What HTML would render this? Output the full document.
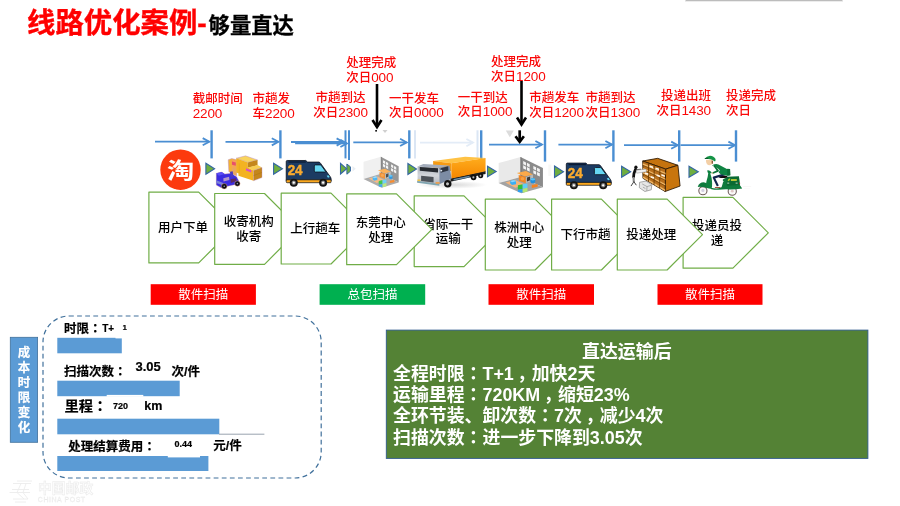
<!DOCTYPE html>
<html lang="zh-CN">
<head>
<meta charset="utf-8">
<title>线路优化案例-够量直达</title>
<style>
html,body{margin:0;padding:0;background:#fff;}
body{width:900px;height:506px;overflow:hidden;position:relative;font-family:"Liberation Sans","Noto Sans CJK SC",sans-serif;}
svg{will-change:transform;position:absolute;left:0;top:0;display:block;}
text{font-family:"Liberation Sans","Noto Sans CJK SC",sans-serif;}
.tl{fill:#fa0808;font-size:12.5px;font-weight:500;}
.pt{fill:#000;font-size:12.5px;text-anchor:middle;font-weight:500;}
.sc{fill:#fff;font-size:12.5px;text-anchor:middle;}
.bk{fill:#000;font-weight:bold;stroke:#000;stroke-width:0.2px;}
.gb{fill:#fff;font-weight:bold;font-size:17.9px;}
</style>
</head>
<body>
<svg width="900" height="506" viewBox="0 0 900 506">

<rect x="685.5" y="0" width="157" height="1" fill="#bcbcbc"/><rect x="685" y="1" width="158" height="1" fill="#ececec"/>
<text x="27" y="33" font-size="28.4" font-weight="bold" fill="#ff0000" stroke="#ff0000" stroke-width="0.35">线路优化案例-</text>
<text x="208.6" y="33" font-size="21.3" font-weight="bold" fill="#000" stroke="#000" stroke-width="0.3">够量直达</text>
<text class="tl" x="192.7" y="103.2" text-anchor="start">截邮时间</text>
<text class="tl" x="192.7" y="118.0" text-anchor="start"><tspan font-size="13.5" letter-spacing="-0.12">2200</tspan></text>
<text class="tl" x="252.5" y="103.2" text-anchor="start">市趟发</text>
<text class="tl" x="252.5" y="118.0" text-anchor="start">车<tspan font-size="13.5" letter-spacing="-0.12">2200</tspan></text>
<text class="tl" x="340.6" y="102.4" text-anchor="middle">市趟到达</text>
<text class="tl" x="340.6" y="117.2" text-anchor="middle">次日<tspan font-size="13.5" letter-spacing="-0.12">2300</tspan></text>
<text class="tl" x="346.2" y="66.9" text-anchor="start">处理完成</text>
<text class="tl" x="346.2" y="81.7" text-anchor="start">次日<tspan font-size="13.5" letter-spacing="-0.12">000</tspan></text>
<text class="tl" x="389" y="102.5" text-anchor="start">一干发车</text>
<text class="tl" x="389" y="117.3" text-anchor="start">次日<tspan font-size="13.5" letter-spacing="-0.12">0000</tspan></text>
<text class="tl" x="457.8" y="101.5" text-anchor="start">一干到达</text>
<text class="tl" x="457.8" y="116.3" text-anchor="start">次日<tspan font-size="13.5" letter-spacing="-0.12">1000</tspan></text>
<text class="tl" x="491" y="65.9" text-anchor="start">处理完成</text>
<text class="tl" x="491" y="80.7" text-anchor="start">次日<tspan font-size="13.5" letter-spacing="-0.12">1200</tspan></text>
<text class="tl" x="529.3" y="101.9" text-anchor="start">市趟发车</text>
<text class="tl" x="529.3" y="116.7" text-anchor="start">次日<tspan font-size="13.5" letter-spacing="-0.12">1200</tspan></text>
<text class="tl" x="585.5" y="101.9" text-anchor="start">市趟到达</text>
<text class="tl" x="585.5" y="116.7" text-anchor="start">次日<tspan font-size="13.5" letter-spacing="-0.12">1300</tspan></text>
<text class="tl" x="711" y="100.2" text-anchor="end">投递出班</text>
<text class="tl" x="711" y="115.0" text-anchor="end">次日<tspan font-size="13.5" letter-spacing="-0.12">1430</tspan></text>
<text class="tl" x="726" y="100.2" text-anchor="start">投递完成</text>
<text class="tl" x="726" y="115.0" text-anchor="start">次日</text>
<g stroke="#4a8ed2" stroke-width="1.8" fill="none" opacity="1" stroke-linecap="butt"><line x1="155" y1="141.7" x2="209.3" y2="141.7"/><polyline points="202.70000000000002,138.1 209.3,141.7 202.70000000000002,145.29999999999998"/></g>
<line x1="211.6" y1="130.3" x2="211.6" y2="158.4" stroke="#4a8ed2" stroke-width="2.4" opacity="1"/>
<g stroke="#4a8ed2" stroke-width="1.8" fill="none" opacity="1" stroke-linecap="butt"><line x1="225.5" y1="141.79999999999998" x2="278.4" y2="141.79999999999998"/><polyline points="271.79999999999995,138.2 278.4,141.79999999999998 271.79999999999995,145.39999999999998"/></g>
<line x1="280.4" y1="130.3" x2="280.4" y2="158.4" stroke="#4a8ed2" stroke-width="2.4" opacity="1"/>
<g stroke="#4a8ed2" stroke-width="1.8" fill="none" opacity="1" stroke-linecap="butt"><line x1="291" y1="142.0" x2="343.2" y2="142.0"/><polyline points="336.59999999999997,138.4 343.2,142.0 336.59999999999997,145.6"/></g>
<g stroke="#4a8ed2" stroke-width="1.8" fill="none" opacity="1" stroke-linecap="butt"><line x1="295.1" y1="143.39999999999998" x2="347" y2="143.39999999999998"/><polyline points="340.4,139.79999999999998 347,143.39999999999998 340.4,146.99999999999997"/></g>
<line x1="345.5" y1="130.3" x2="345.5" y2="158.4" stroke="#4a8ed2" stroke-width="2" opacity="1"/>
<line x1="349" y1="130.3" x2="349" y2="160" stroke="#4a8ed2" stroke-width="2" opacity="1"/>
<g stroke="#4a8ed2" stroke-width="1.8" fill="none" opacity="1" stroke-linecap="butt"><line x1="353.3" y1="142.39999999999998" x2="406.7" y2="142.39999999999998"/><polyline points="400.09999999999997,138.79999999999998 406.7,142.39999999999998 400.09999999999997,145.99999999999997"/></g>
<line x1="409.3" y1="130.3" x2="409.3" y2="158.4" stroke="#4a8ed2" stroke-width="2.4" opacity="1"/>
<line x1="415" y1="130.3" x2="415" y2="158.4" stroke="#dbe6f4" stroke-width="2" opacity="1"/>
<g stroke="#e3ecf7" stroke-width="1.8" fill="none" opacity="1" stroke-linecap="butt"><line x1="420" y1="142.6" x2="473" y2="142.6"/><polyline points="466.4,139.0 473,142.6 466.4,146.2"/></g>
<line x1="477.5" y1="130.3" x2="477.5" y2="158.4" stroke="#dbe6f4" stroke-width="2" opacity="1"/>
<line x1="481.2" y1="130.3" x2="481.2" y2="161.6" stroke="#4a8ed2" stroke-width="2.4" opacity="1"/>
<g stroke="#4a8ed2" stroke-width="1.8" fill="none" opacity="1" stroke-linecap="butt"><line x1="489" y1="144.6" x2="542" y2="144.6"/><polyline points="535.4,141.0 542,144.6 535.4,148.2"/></g>
<line x1="545" y1="130.3" x2="545" y2="161.6" stroke="#4a8ed2" stroke-width="2.4" opacity="1"/>
<g stroke="#4a8ed2" stroke-width="1.8" fill="none" opacity="1" stroke-linecap="butt"><line x1="558.4" y1="144.6" x2="612" y2="144.6"/><polyline points="605.4,141.0 612,144.6 605.4,148.2"/></g>
<line x1="613.4" y1="130.3" x2="613.4" y2="161.6" stroke="#4a8ed2" stroke-width="2.4" opacity="1"/>
<g stroke="#4a8ed2" stroke-width="1.8" fill="none" opacity="1" stroke-linecap="butt"><line x1="624" y1="145.2" x2="677.8" y2="145.2"/><polyline points="671.1999999999999,141.6 677.8,145.2 671.1999999999999,148.79999999999998"/></g>
<line x1="679.2" y1="130.3" x2="679.2" y2="161.6" stroke="#4a8ed2" stroke-width="2.4" opacity="1"/>
<g stroke="#4a8ed2" stroke-width="1.8" fill="none" opacity="1" stroke-linecap="butt"><line x1="680.5" y1="145.2" x2="735" y2="145.2"/><polyline points="728.4,141.6 735,145.2 728.4,148.79999999999998"/></g>
<line x1="736" y1="130.3" x2="736" y2="161.6" stroke="#4a8ed2" stroke-width="2.4" opacity="1"/>
<g stroke="#000" stroke-width="2.6" fill="none"><line x1="377" y1="84" x2="377" y2="127"/><polyline points="372.5,120 377,127 381.5,120"/></g>
<rect x="375.3" y="130" width="1.6" height="1.6" fill="#000"/>
<polygon points="382.5,130 387.5,130 385,133" fill="#d0d0d0"/>
<g stroke="#000" stroke-width="2.6" fill="none"><line x1="521.5" y1="81" x2="521.5" y2="124.5"/><polyline points="517.0,117.5 521.5,124.5 526.0,117.5"/></g>
<g stroke="#000" stroke-width="2.7" fill="none"><line x1="519.7" y1="130.3" x2="519.7" y2="141.8"/><polyline points="515.5,136.3 519.7,141.8 523.9000000000001,136.3"/></g>
<polygon points="505.8,130.5 513.8,130.5 509.8,137.2" fill="#dcdcdc"/>
<polygon points="205.9,163.2 214.6,168.7 205.9,174.2" fill="#6fae3f" stroke="#3465a4" stroke-width="1.1" stroke-linejoin="miter"/>
<polygon points="273.6,163.3 282.4,168.8 273.6,174.3" fill="#6fae3f" stroke="#3465a4" stroke-width="1.1" stroke-linejoin="miter"/>
<polygon points="340.5,163.3 346.7,168.7 340.5,174" fill="#6fae3f" stroke="#3465a4" stroke-width="1.1"/>
<polygon points="346.9,164 350.4,166.8 350.4,171.2 346.9,174.2" fill="#6fae3f" stroke="#3465a4" stroke-width="1"/>
<polygon points="352.5,166 355.8,168.8 352.5,171.6" fill="#e9eef3"/>
<polygon points="407.9,163.5 416.5,169.0 407.9,174.5" fill="#6fae3f" stroke="#3465a4" stroke-width="1.1" stroke-linejoin="miter"/>
<polygon points="487.5,166.2 496.2,171.5 487.5,176.8" fill="#6fae3f" stroke="#3465a4" stroke-width="1.1" stroke-linejoin="miter"/>
<polygon points="548.3,164.5 551.3,164.5 551.3,176 548.3,176" fill="#f8f8f6"/>
<polygon points="554.5,166 563.5,171.7 554.5,177.4" fill="#6fae3f" stroke="#3465a4" stroke-width="1.1" stroke-linejoin="miter"/>
<polygon points="621.6,166.2 630.7,171.7 621.6,177.2" fill="#6fae3f" stroke="#3465a4" stroke-width="1.1" stroke-linejoin="miter"/>
<polygon points="689,166.2 698.3,171.7 689,177.2" fill="#6fae3f" stroke="#3465a4" stroke-width="1.1" stroke-linejoin="miter"/>
<circle cx="180.5" cy="169.7" r="20.2" fill="#fc3a0e"/>
<text transform="translate(180.6,177.6) scale(1.27,1)" x="0" y="0" font-size="21.5" font-weight="bold" fill="#fff" text-anchor="middle">淘</text>
<g transform="translate(210,150) scale(0.08889)">
<polygon points="205,110 245,96 300,110 300,290 212,245" fill="#f2b235" stroke="#b58ad0" stroke-width="5"/>
<polygon points="245,104 292,114 292,290 245,262" fill="#f5a457"/>
<polygon points="247,128 290,140 290,178 247,166" fill="#e8506a"/>
<polygon points="250,200 288,210 288,280 250,262" fill="#e9a860"/>
<polygon points="295,92 400,66 535,112 425,140" fill="#f9d45c" stroke="#b58ad0" stroke-width="5"/>
<polygon points="295,92 425,140 425,300 295,252" fill="#f3b321"/>
<polygon points="425,140 535,112 535,172 425,200" fill="#c4861c"/>
<polygon points="425,196 535,170 585,196 490,230" fill="#f7cd52"/>
<polygon points="320,240 425,196 490,230 490,346 320,290" fill="#f3b321"/>
<polygon points="490,230 585,196 585,310 490,346" fill="#c4861c" stroke="#b58ad0" stroke-width="4"/>
<polyline points="490,288 585,252" stroke="#a8700f" stroke-width="5" fill="none"/>
<polygon points="405,205 465,228 465,252 405,230" fill="#d94cc8"/>
<polyline points="330,150 330,260 M350,160 350,265" stroke="#dca020" stroke-width="5" fill="none"/>
<polygon points="70,262 132,248 165,270 235,262 300,300 325,350 290,388 125,425 70,395" fill="#3b2ce0" stroke="#f0b090" stroke-width="4"/>
<polygon points="70,262 132,248 165,270 100,290" fill="#5a4df5"/>
<polygon points="70,340 150,370 150,400 70,372" fill="#7a80d8"/>
<polygon points="225,245 255,238 265,300 232,312" fill="#4a3bc0"/>
<polygon points="150,318 215,300 218,338 152,355" fill="#b094c8"/>
<polygon points="230,330 290,318 300,350 235,370" fill="#5a2a60"/>
<circle cx="160" cy="408" r="31" fill="#0c0c14" stroke="#f0b090" stroke-width="5"/><circle cx="160" cy="408" r="9" fill="#9a9aa8"/>
<circle cx="308" cy="378" r="30" fill="#0c0c14" stroke="#f0b090" stroke-width="5"/><circle cx="308" cy="378" r="9" fill="#9a9aa8"/>
</g>
<g transform="translate(280,150) scale(0.08889)">
<path d="M82,118 H290 L310,136 H438 Q448,138 455,148 L568,305 Q575,315 575,330 V345 H70 V130 Q70,118 82,118 Z" fill="#1c3b63" stroke="#0a0f1a" stroke-width="9" stroke-linejoin="round"/>
<path d="M70,335 H575 V358 Q575,368 565,368 H80 Q70,368 70,358 Z" fill="#fba81f" stroke="#0a0f1a" stroke-width="8" stroke-linejoin="round"/>
<path d="M95,135 H290" stroke="#0c1b33" stroke-width="14" fill="none"/>
<path d="M398,168 H452 Q460,168 466,176 L512,240 Q515,248 505,248 H398 Q386,248 386,236 V180 Q386,168 398,168 Z" fill="#66d6f2" stroke="#0a0f1a" stroke-width="9" stroke-linejoin="round"/>
<polygon points="525,290 545,283 560,305 540,312" fill="#66d6f2"/>
<text x="86" y="284" font-size="158" font-weight="bold" fill="#fbab2e" stroke="#fbab2e" stroke-width="5" textLength="168" lengthAdjust="spacingAndGlyphs">24</text>
<circle cx="155" cy="368" r="45" fill="#151515"/><circle cx="155" cy="368" r="25" fill="#777"/><circle cx="155" cy="368" r="13" fill="#fff"/>
<circle cx="485" cy="368" r="45" fill="#151515"/><circle cx="485" cy="368" r="25" fill="#777"/><circle cx="485" cy="368" r="13" fill="#fff"/>
</g>
<g transform="translate(560.1,152.6) scale(0.08889)">
<path d="M82,118 H290 L310,136 H438 Q448,138 455,148 L568,305 Q575,315 575,330 V345 H70 V130 Q70,118 82,118 Z" fill="#1c3b63" stroke="#0a0f1a" stroke-width="9" stroke-linejoin="round"/>
<path d="M70,335 H575 V358 Q575,368 565,368 H80 Q70,368 70,358 Z" fill="#fba81f" stroke="#0a0f1a" stroke-width="8" stroke-linejoin="round"/>
<path d="M95,135 H290" stroke="#0c1b33" stroke-width="14" fill="none"/>
<path d="M398,168 H452 Q460,168 466,176 L512,240 Q515,248 505,248 H398 Q386,248 386,236 V180 Q386,168 398,168 Z" fill="#66d6f2" stroke="#0a0f1a" stroke-width="9" stroke-linejoin="round"/>
<polygon points="525,290 545,283 560,305 540,312" fill="#66d6f2"/>
<text x="86" y="284" font-size="158" font-weight="bold" fill="#fbab2e" stroke="#fbab2e" stroke-width="5" textLength="168" lengthAdjust="spacingAndGlyphs">24</text>
<circle cx="155" cy="368" r="45" fill="#151515"/><circle cx="155" cy="368" r="25" fill="#777"/><circle cx="155" cy="368" r="13" fill="#fff"/>
<circle cx="485" cy="368" r="45" fill="#151515"/><circle cx="485" cy="368" r="25" fill="#777"/><circle cx="485" cy="368" r="13" fill="#fff"/>
</g>
<g transform="translate(480.00,145.00) scale(0.10667,0.10667)" opacity="1">
<polygon points="175,168 380,113 380,300 175,357" fill="#e9e9e9"/>
<polygon points="380,113 590,216 590,396 380,300" fill="#8b8b8b"/>
<polygon points="175,357 380,300 590,396 388,452" fill="#a3a3a3"/>
<polygon points="380,113 388,117 388,304 380,300" fill="#6e6e6e"/>
<polygon points="405,150 431,163 431,193 405,180" fill="#f4f4f4"/>
<polygon points="440,167 466,180 466,210 440,197" fill="#f4f4f4"/>
<polygon points="405,190 431,203 431,233 405,220" fill="#f4f4f4"/>
<polygon points="440,207 466,220 466,250 440,237" fill="#f4f4f4"/>
<polygon points="500,196 526,209 526,239 500,226" fill="#f4f4f4"/>
<polygon points="535,213 561,226 561,256 535,243" fill="#f4f4f4"/>
<polygon points="500,236 526,249 526,279 500,266" fill="#f4f4f4"/>
<polygon points="535,253 561,266 561,296 535,283" fill="#f4f4f4"/>
<polygon points="238,352 330,328 425,372 332,400" fill="#f4b47a"/>
<polygon points="283,338 320,328 338,340 338,368 300,376 283,362" fill="#39aef4"/>
<polygon points="283,338 320,328 338,340 300,350" fill="#8fd6fb"/>
<polygon points="345,262 430,244 497,276 420,296" fill="#fba94a"/>
<polygon points="362,282 430,300 430,358 366,336" fill="#f08522"/>
<polygon points="430,300 497,276 497,330 430,358" fill="#b9b9b9"/>
<circle cx="398" cy="316" r="17" fill="#f6a044"/>
<polygon points="440,305 470,295 470,330 440,342" fill="#3a3a3a"/>
<ellipse cx="495" cy="334" rx="24" ry="24" fill="#1e90e0"/><ellipse cx="495" cy="322" rx="22" ry="10" fill="#5cc4f7"/>
<polygon points="355,378 400,368 400,412 355,420" fill="#2fbf3a"/>
<polygon points="400,368 445,362 445,400 400,412" fill="#5fcdf7"/>
<polygon points="355,420 400,412 400,447 355,440" fill="#2f9ff0"/>
<polygon points="400,412 445,400 445,436 400,447" fill="#b3e673"/>
<polygon points="486,376 540,366 540,392 486,402" fill="#f5821f"/>
</g>
<g transform="translate(348.66,146.52) scale(0.08480,0.09099)" opacity="0.9">
<polygon points="175,168 380,113 380,300 175,357" fill="#efefef"/>
<polygon points="380,113 590,216 590,396 380,300" fill="#8b8b8b"/>
<polygon points="175,357 380,300 590,396 388,452" fill="#a3a3a3"/>
<polygon points="380,113 388,117 388,304 380,300" fill="#6e6e6e"/>
<polygon points="405,150 431,163 431,193 405,180" fill="#f4f4f4"/>
<polygon points="440,167 466,180 466,210 440,197" fill="#f4f4f4"/>
<polygon points="405,190 431,203 431,233 405,220" fill="#f4f4f4"/>
<polygon points="440,207 466,220 466,250 440,237" fill="#f4f4f4"/>
<polygon points="500,196 526,209 526,239 500,226" fill="#f4f4f4"/>
<polygon points="535,213 561,226 561,256 535,243" fill="#f4f4f4"/>
<polygon points="500,236 526,249 526,279 500,266" fill="#f4f4f4"/>
<polygon points="535,253 561,266 561,296 535,283" fill="#f4f4f4"/>
<polygon points="238,352 330,328 425,372 332,400" fill="#f4b47a"/>
<polygon points="283,338 320,328 338,340 338,368 300,376 283,362" fill="#39aef4"/>
<polygon points="283,338 320,328 338,340 300,350" fill="#8fd6fb"/>
<polygon points="345,262 430,244 497,276 420,296" fill="#fba94a"/>
<polygon points="362,282 430,300 430,358 366,336" fill="#f08522"/>
<polygon points="430,300 497,276 497,330 430,358" fill="#b9b9b9"/>
<circle cx="398" cy="316" r="17" fill="#f6a044"/>
<polygon points="440,305 470,295 470,330 440,342" fill="#3a3a3a"/>
<ellipse cx="495" cy="334" rx="24" ry="24" fill="#1e90e0"/><ellipse cx="495" cy="322" rx="22" ry="10" fill="#5cc4f7"/>
<polygon points="355,378 400,368 400,412 355,420" fill="#2fbf3a"/>
<polygon points="400,368 445,362 445,400 400,412" fill="#5fcdf7"/>
<polygon points="355,420 400,412 400,447 355,440" fill="#2f9ff0"/>
<polygon points="400,412 445,400 445,436 400,447" fill="#b3e673"/>
<polygon points="486,376 540,366 540,392 486,402" fill="#f5821f"/>
</g>
<g transform="translate(410,150) scale(0.08889)">
<defs><linearGradient id="tg" x1="0" y1="0" x2="0" y2="1"><stop offset="0" stop-color="#ffac1c"/><stop offset="1" stop-color="#f58600"/></linearGradient>
<linearGradient id="cg" x1="0" y1="0" x2="0" y2="1"><stop offset="0" stop-color="#aeb4be"/><stop offset="0.5" stop-color="#d2d5da"/><stop offset="1" stop-color="#b4b8c0"/></linearGradient>
<radialGradient id="sh" cx="0.5" cy="0.5" r="0.5"><stop offset="0" stop-color="#d8d8d8"/><stop offset="1" stop-color="#ffffff"/></radialGradient></defs>
<ellipse cx="470" cy="392" rx="400" ry="45" fill="url(#sh)"/>
<polygon points="455,318 850,234 850,270 455,356" fill="#1e1e1e"/>
<polygon points="260,125 620,75 850,90 465,150" fill="#ffc244"/>
<polygon points="465,150 850,90 850,240 465,322" fill="url(#tg)"/>
<polygon points="490,326 670,290 670,306 490,343" fill="#6a8ea8"/>
<polygon points="260,125 465,150 465,240 260,200" fill="#f59a12"/>
<polygon points="85,185 150,158 440,175 330,202" fill="#a4adbc"/>
<polygon points="85,185 330,202 330,386 85,356" fill="url(#cg)"/>
<polygon points="330,202 446,175 468,324 330,386" fill="#7c8ca4"/>
<polygon points="110,190 315,205 315,252 110,234" fill="#262a30"/>
<polygon points="125,290 265,305 265,366 125,350" fill="#4d5259"/>
<polygon points="345,205 430,182 432,232 345,255" fill="#2c3440"/>
<circle cx="352" cy="232" r="11" fill="#e4ebf3"/>
<polygon points="80,348 330,380 330,402 80,368" fill="#7fa4b0"/>
<rect x="84" y="332" width="32" height="17" fill="#f5c53a"/><rect x="288" y="362" width="46" height="17" fill="#f59a3a"/>
<ellipse cx="425" cy="380" rx="42" ry="43" fill="#111"/><ellipse cx="422" cy="381" rx="17" ry="19" fill="#c4c4c4"/>
<ellipse cx="715" cy="306" rx="32" ry="33" fill="#111"/><ellipse cx="713" cy="307" rx="12" ry="13" fill="#b8b8b8"/>
<ellipse cx="795" cy="288" rx="29" ry="30" fill="#111"/><ellipse cx="793" cy="289" rx="10" ry="11" fill="#b8b8b8"/>
</g>
<g transform="translate(615,145) scale(0.10667)">
<polygon points="260,150 400,125 590,190 475,226" fill="#c5730f" stroke="#2a1600" stroke-width="8" stroke-linejoin="round"/>
<polygon points="475,226 590,190 610,385 470,436" fill="#c8750d" stroke="#2a1600" stroke-width="8" stroke-linejoin="round"/>
<polygon points="260,150 475,226 470,436 262,312" fill="#b86f1c" stroke="#2a1600" stroke-width="8" stroke-linejoin="round"/>
<polygon points="260,172 474,260 474,276 260,188" fill="#eeb566"/>
<polygon points="261,213 472,313 472,328 261,228" fill="#eeb566"/>
<polygon points="262,254 471,366 471,380 262,268" fill="#eeb566"/>
<polygon points="262,294 470,418 470,433 262,309" fill="#eeb566"/>
<line x1="314" y1="169" x2="314" y2="343" stroke="#6a3900" stroke-width="8"/>
<line x1="368" y1="188" x2="366" y2="374" stroke="#6a3900" stroke-width="8"/>
<line x1="421" y1="207" x2="418" y2="405" stroke="#6a3900" stroke-width="8"/>
<line x1="260" y1="190" x2="474" y2="278" stroke="#6a3900" stroke-width="6"/>
<line x1="261" y1="231" x2="472" y2="331" stroke="#6a3900" stroke-width="6"/>
<line x1="262" y1="272" x2="471" y2="384" stroke="#6a3900" stroke-width="6"/>
<polygon points="325,190 357,201 357,217 325,206" fill="#fdf6ea"/>
<polygon points="380,210 412,221 412,237 380,226" fill="#fdf6ea"/>
<polygon points="335,290 367,301 367,317 335,306" fill="#fdf6ea"/>
<polygon points="390,275 422,286 422,302 390,291" fill="#fdf6ea"/>
<polygon points="435,272 467,283 467,299 435,288" fill="#fdf6ea"/>
<polygon points="280,255 312,266 312,282 280,271" fill="#fdf6ea"/>
<ellipse cx="196" cy="208" rx="15" ry="16" fill="#111"/>
<path d="M192,228 Q172,270 174,300" stroke="#111" stroke-width="26" fill="none" stroke-linecap="round"/>
<path d="M174,300 L176,345" stroke="#8a8a8a" stroke-width="20" fill="none" stroke-linecap="butt"/>
<path d="M176,345 L152,382 M178,345 L198,374" stroke="#222" stroke-width="8" fill="none" stroke-linecap="round"/>
<polygon points="198,236 290,226 296,250 204,264" fill="#f2f2f2" stroke="#7a7a7a" stroke-width="4"/>
<path d="M200,232 L245,226" stroke="#333" stroke-width="6"/>
<path d="M230,350 L290,338 L345,372 L340,420 L280,436 L228,400 Z" fill="#e6e6e6" stroke="#808080" stroke-width="6" stroke-linejoin="round"/>
<path d="M255,365 L300,390 L298,430 M300,390 L340,378 M262,395 L285,408" stroke="#8a8a8a" stroke-width="6" fill="none"/>
</g>
<g transform="translate(694,152) scale(0.08897)">
<rect x="548" y="382" width="95" height="5" fill="#f1eded"/><rect x="560" y="405" width="70" height="4" fill="#f6f3f3"/>
<circle cx="100" cy="435" r="46" fill="#fbfafa" stroke="#6e5c5a" stroke-width="12"/><circle cx="100" cy="432" r="18" fill="#d4d0e2"/>
<circle cx="430" cy="440" r="46" fill="#fbfafa" stroke="#6e5c5a" stroke-width="12"/><circle cx="430" cy="440" r="16" fill="#e2c8c8"/>
<path d="M42,392 Q58,340 110,340 Q165,348 180,410 L150,405 Q120,392 90,392 Q62,390 42,392 Z" fill="#0e7a3d"/>
<path d="M150,205 Q175,200 195,225 L200,238 L182,240 Q205,300 205,350 Q205,395 195,410 L140,405 Q128,370 140,330 Q155,290 160,240 Q148,225 150,205 Z" fill="#0f8040"/>
<path d="M185,398 Q250,420 300,400 L300,330 Q330,300 370,285 L505,280 L515,370 L542,410 Q450,425 360,420 Q250,432 185,415 Z" fill="#0e7a3d"/>
<path d="M205,290 L300,275 L330,330 L310,395 L210,398 Z" fill="#fdfdfd"/>
<polygon points="365,278 505,272 515,372 368,378" fill="#0a6a32"/>
<polygon points="376,318 395,298 410,302 392,330" fill="#b5d334"/>
<rect x="415" y="305" width="66" height="20" fill="#c9cf3a"/>
<rect x="374" y="345" width="22" height="9" fill="#e9f3ea"/><rect x="468" y="345" width="22" height="9" fill="#e9f3ea"/>
<rect x="508" y="345" width="10" height="18" fill="#c0392b"/>
<ellipse cx="325" cy="278" rx="50" ry="14" fill="#140a0a"/>
<path d="M345,250 L222,288 L268,382" stroke="#13244c" stroke-width="24" fill="none" stroke-linejoin="round" stroke-linecap="butt"/>
<path d="M240,400 L292,400" stroke="#a0523a" stroke-width="12" stroke-linecap="round"/>
<path d="M205,150 Q240,128 275,140 L370,190 L378,188 L405,192 L408,262 L372,268 L300,250 L262,215 Z" fill="#0f8443"/>
<path d="M372,192 L405,192 L408,262 L375,266 Z" fill="#0b6e36"/>
<polygon points="215,150 262,180 290,205 272,240 225,215" fill="#ffffff"/>
<path d="M232,160 L270,212 L212,236" stroke="#0c7238" stroke-width="20" fill="none" stroke-linecap="round" stroke-linejoin="round"/>
<circle cx="207" cy="237" r="9" fill="#f0c7a0"/>
<path d="M135,90 Q132,140 170,150 Q205,150 210,110 L205,85 Z" fill="#f3cfa6"/>
<path d="M198,95 L215,98 L212,135 L198,128 Z" fill="#8a5a36"/>
<path d="M125,72 Q138,48 180,42 Q225,44 242,80 Q245,98 236,106 L208,90 Q180,78 152,80 Z" fill="#159447"/>
<path d="M120,68 L160,66 L160,80 L122,78 Z" fill="#0a5a2a"/>
</g>
<polygon points="148.9,192.1 198.7,192.1 234.1,227.5 198.7,262.9 148.9,262.9" fill="#fff" stroke="#70ad47" stroke-width="1.2" stroke-linejoin="round"/>
<text class="pt" x="182.9" y="232.1">用户下单</text>
<polygon points="214.7,193.5 264.5,193.5 299.9,228.9 264.5,264.3 214.7,264.3" fill="#fff" stroke="#70ad47" stroke-width="1.2" stroke-linejoin="round"/>
<text class="pt" x="248.7" y="226.2">收寄机构</text>
<text class="pt" x="248.7" y="241.1">收寄</text>
<polygon points="281.2,193.2 331.0,193.2 366.4,228.6 331.0,264.0 281.2,264.0" fill="#fff" stroke="#70ad47" stroke-width="1.2" stroke-linejoin="round"/>
<text class="pt" x="315.2" y="233.2">上行趟车</text>
<polygon points="414.2,195.8 464.0,195.8 499.4,231.2 464.0,266.6 414.2,266.6" fill="#fff" stroke="#70ad47" stroke-width="1.2" stroke-linejoin="round"/>
<text class="pt" x="448.2" y="228.5">省际一干</text>
<text class="pt" x="448.2" y="243.4">运输</text>
<polygon points="346.7,193.9 396.5,193.9 431.9,229.3 396.5,264.7 346.7,264.7" fill="#fff" stroke="#70ad47" stroke-width="1.2" stroke-linejoin="round"/>
<text class="pt" x="380.7" y="226.6">东莞中心</text>
<text class="pt" x="380.7" y="241.5">处理</text>
<polygon points="485.3,199.2 535.1,199.2 570.5,234.6 535.1,270.0 485.3,270.0" fill="#fff" stroke="#70ad47" stroke-width="1.2" stroke-linejoin="round"/>
<text class="pt" x="519.3" y="231.9">株洲中心</text>
<text class="pt" x="519.3" y="246.8">处理</text>
<polygon points="551.6,199.2 601.4,199.2 636.8,234.6 601.4,270.0 551.6,270.0" fill="#fff" stroke="#70ad47" stroke-width="1.2" stroke-linejoin="round"/>
<text class="pt" x="585.6" y="239.2">下行市趟</text>
<polygon points="683.1,197.4 732.9,197.4 768.3,232.8 732.9,268.2 683.1,268.2" fill="#fff" stroke="#70ad47" stroke-width="1.2" stroke-linejoin="round"/>
<text class="pt" x="717.1" y="230.1">投递员投</text>
<text class="pt" x="717.1" y="245.0">递</text>
<polygon points="617.3,199.2 667.1,199.2 702.5,234.6 667.1,270.0 617.3,270.0" fill="#fff" stroke="#70ad47" stroke-width="1.2" stroke-linejoin="round"/>
<text class="pt" x="651.3" y="239.2">投递处理</text>
<rect x="150.7" y="284.2" width="105.2" height="20.6" fill="#ff0000"/>
<text class="sc" x="203.3" y="299.1">散件扫描</text>
<rect x="319.6" y="284.2" width="105.6" height="20.6" fill="#00b050"/>
<text class="sc" x="372.4" y="299.1">总包扫描</text>
<rect x="488.5" y="284.2" width="105.5" height="20.6" fill="#ff0000"/>
<text class="sc" x="541.2" y="299.1">散件扫描</text>
<rect x="657.5" y="284.2" width="105.0" height="20.6" fill="#ff0000"/>
<text class="sc" x="710.0" y="299.1">散件扫描</text>
<rect x="10.3" y="337.3" width="27.3" height="105" fill="#5b9bd5" stroke="#41719c" stroke-width="0.8"/>
<text x="24" y="357.3" font-size="12.5" font-weight="bold" fill="#fff" stroke="#fff" stroke-width="0.2" text-anchor="middle">成</text>
<text x="24" y="372.3" font-size="12.5" font-weight="bold" fill="#fff" stroke="#fff" stroke-width="0.2" text-anchor="middle">本</text>
<text x="24" y="387.3" font-size="12.5" font-weight="bold" fill="#fff" stroke="#fff" stroke-width="0.2" text-anchor="middle">时</text>
<text x="24" y="402.3" font-size="12.5" font-weight="bold" fill="#fff" stroke="#fff" stroke-width="0.2" text-anchor="middle">限</text>
<text x="24" y="417.3" font-size="12.5" font-weight="bold" fill="#fff" stroke="#fff" stroke-width="0.2" text-anchor="middle">变</text>
<text x="24" y="432.3" font-size="12.5" font-weight="bold" fill="#fff" stroke="#fff" stroke-width="0.2" text-anchor="middle">化</text>
<rect x="43" y="316" width="278.2" height="162" rx="26" ry="26" fill="none" stroke="#41719c" stroke-width="1.2" stroke-dasharray="4.8 3.3"/>
<rect x="57.3" y="337.8" width="64.5" height="15.5" fill="#5b9bd5"/>
<rect x="57.3" y="380.7" width="122.4" height="15.5" fill="#5b9bd5"/>
<rect x="57.3" y="418.7" width="162.0" height="15.6" fill="#5b9bd5"/>
<line x1="219" y1="434.2" x2="264.4" y2="434.2" stroke="#7f8c99" stroke-width="0.8"/>
<rect x="57.3" y="456" width="151.1" height="15.0" fill="#5b9bd5"/>
<rect x="115.5" y="337" width="7" height="1.4" fill="#fff"/><rect x="106.7" y="394.9" width="36.6" height="1.8" fill="#fff"/><rect x="167.8" y="455.5" width="32.2" height="1.9" fill="#fff"/>
<text class="bk" x="64" y="332.6" font-size="12.5">时限<tspan lang="zh-TW" style="font-family:'Noto Sans CJK TC',sans-serif">：</tspan></text>
<text class="bk" x="102.2" y="332.4" font-size="10">T+</text>
<text class="bk" x="122.4" y="330" font-size="8">1</text>
<text class="bk" x="64" y="375.8" font-size="12.5">扫描次数<tspan lang="zh-TW" style="font-family:'Noto Sans CJK TC',sans-serif">：</tspan></text>
<text class="bk" x="135.5" y="371" font-size="13">3.05</text>
<text class="bk" x="171.6" y="375.8" font-size="12.5">次/件</text>
<text class="bk" x="64.5" y="411" font-size="14.2">里程<tspan lang="zh-TW" style="font-family:'Noto Sans CJK TC',sans-serif">：</tspan></text>
<text class="bk" x="113" y="409" font-size="9">720</text>
<text class="bk" x="144.2" y="410" font-size="12.5">km</text>
<text class="bk" x="68.2" y="450.6" font-size="12.5">处理结算费用<tspan lang="zh-TW" style="font-family:'Noto Sans CJK TC',sans-serif">：</tspan></text>
<text class="bk" x="174.6" y="447.3" font-size="9">0.44</text>
<text class="bk" x="213.2" y="450.3" font-size="12.5">元/件</text>
<rect x="386.3" y="330.1" width="481.6" height="128.3" fill="#548235" stroke="#2f5a8c" stroke-width="0.9"/>
<text class="gb" x="626.8" y="357.5" text-anchor="middle">直达运输后</text>
<text class="gb" x="393" y="379.6">全程时限<tspan lang="zh-TW" style="font-family:'Noto Sans CJK TC',sans-serif">：</tspan>T+1<tspan dx="3.5">，</tspan><tspan dx="-3.5">加快2天</tspan></text>
<text class="gb" x="393" y="400.9">运输里程<tspan lang="zh-TW" style="font-family:'Noto Sans CJK TC',sans-serif">：</tspan>720KM<tspan dx="3.5">，</tspan><tspan dx="-3.5">缩短23%</tspan></text>
<text class="gb" x="393" y="422.2">全环节装、卸次数<tspan lang="zh-TW" style="font-family:'Noto Sans CJK TC',sans-serif">：</tspan>7次<tspan dx="3.5">，</tspan><tspan dx="-3.5">减少4次</tspan></text>
<text class="gb" x="393" y="443.5">扫描次数<tspan lang="zh-TW" style="font-family:'Noto Sans CJK TC',sans-serif">：</tspan>进一步下降到3.05次</text>
<g fill="#fdfdfd" stroke="#e9e9e9" stroke-width="0.5">
<text x="38" y="492.6" font-size="13.8" font-weight="bold">中国邮政</text>
<text x="37.8" y="502" font-size="7" letter-spacing="0.55" stroke-width="0.35">CHINA POST</text>
<path d="M13,483.5 H31 M17,481 H32 M9.5,492.5 H30 M12,489.5 H29 M13,499 H28 M15,502 H26 M21,483.5 L17,492.5 L24,499 M26,483.5 L23,492.5 L28,499" fill="none" stroke="#ececec" stroke-width="0.9"/>
</g>
</svg>
</body>
</html>
